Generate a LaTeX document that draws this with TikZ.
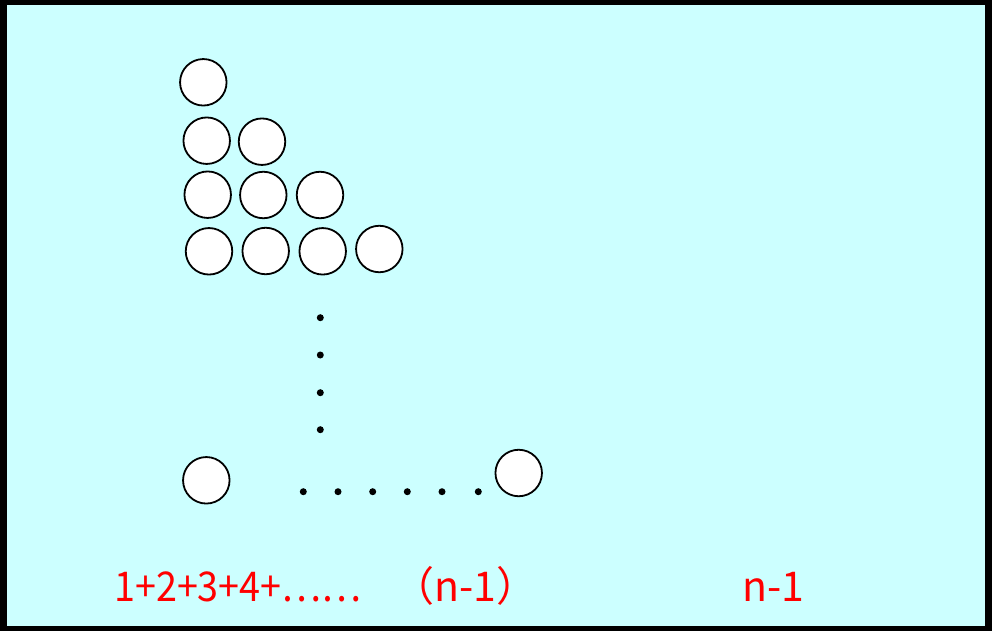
\documentclass[tikz,border=0pt]{standalone}
\usepackage{fontspec}
\newfontfamily\jpfont{Noto Sans CJK JP}
\definecolor{bgcyan}{RGB}{204,255,255}
\definecolor{txtred}{RGB}{255,0,0}
\tikzset{
  ball/.style={circle,draw=black,fill=white,line width=1.8pt,minimum size=46.5pt,inner sep=0pt},
  dotmark/.style={circle,fill=black,minimum size=7pt,inner sep=0pt},
  redlabel/.style={text=txtred,font=\jpfont\fontsize{41pt}{41pt}\selectfont,inner sep=0pt,anchor=base west}
}
\begin{document}
\begin{tikzpicture}[x=1pt,y=-1pt]
\useasboundingbox (0,0) rectangle (992,631);
\fill[black] (0,0) rectangle (992,631);
\fill[bgcyan] (7,5) rectangle (985,626);
% row 1
\node[ball] (a1) at (203.3,82.3) {};
% row 2
\node[ball] (b1) at (206.7,140.7) {};
\node[ball] (b2) at (262,141.7) {};
% row 3
\node[ball] (c1) at (207.7,194.7) {};
\node[ball] (c2) at (263.3,195) {};
\node[ball] (c3) at (320,195) {};
% row 4
\node[ball] (d1) at (209,251.3) {};
\node[ball] (d2) at (265.7,251) {};
\node[ball] (d3) at (322.7,251.3) {};
\node[ball] (d4) at (379.3,249) {};
% vertical dots
\node[dotmark] (v1) at (320.3,317.7) {};
\node[dotmark] (v2) at (320.3,355) {};
\node[dotmark] (v3) at (320.3,392.7) {};
\node[dotmark] (v4) at (320.3,429.7) {};
% last row
\node[ball] (e1) at (206.3,480.3) {};
\node[ball] (e2) at (518.7,473) {};
\node[dotmark] (h1) at (303.3,491.7) {};
\node[dotmark] (h2) at (338,491.7) {};
\node[dotmark] (h3) at (372.7,491.7) {};
\node[dotmark] (h4) at (407.3,491.7) {};
\node[dotmark] (h5) at (442,491.7) {};
\node[dotmark] (h6) at (478.3,491.7) {};
% labels
\node[redlabel] (sum) at (114,601.7) {\scalebox{0.92}[1]{1+2+3+4+……}};
\node[redlabel] (paren) at (393,601.7) {（n-1）};
\node[redlabel] (nm1) at (742,601.7) {n-1};
\end{tikzpicture}
\end{document}
